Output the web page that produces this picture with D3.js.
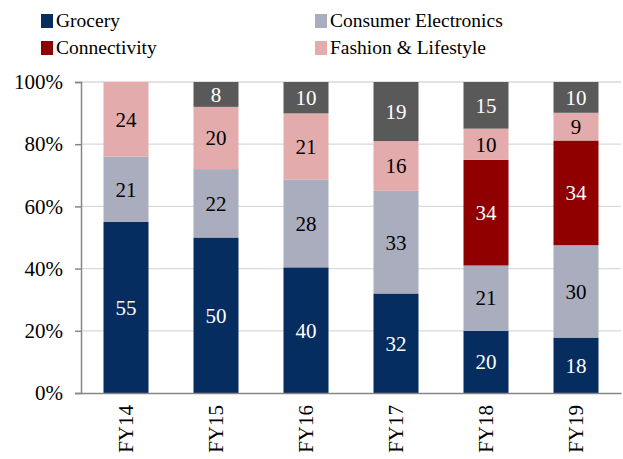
<!DOCTYPE html>
<html><head><meta charset="utf-8">
<script src="https://cdn.jsdelivr.net/npm/d3@7"></script>
<style>body{margin:0;background:#fff}svg{display:block}</style>
</head><body><svg id="c" width="623" height="459" style="font-family:'Liberation Serif','Times New Roman',serif"></svg>
<script>
const categories = ["FY14","FY15","FY16","FY17","FY18","FY19"];
const seriesNames = ["Grocery","Consumer Electronics","Connectivity","Fashion & Lifestyle","Others"];
const grocery = [55,50,40,32,20,18];
const consumerElectronics = [21,22,28,33,21,30];
const connectivity = [0,0,0,0,34,34];
const fashionLifestyle = [24,20,21,16,10,9];
const others = [0,8,10,19,15,10];
const yTicks = [0,0.2,0.4,0.6,0.8,1.0];
const colors = ["#062d5f","#aaadbd","#900000","#e4abac","#595959"];
const labelColors = ["#fff","#000","#fff","#000","#fff"];
const FONT = "'Liberation Serif','Times New Roman',serif";

const svg = d3.select("#c");
const x = d3.scaleBand().domain(categories).range([81,621]).paddingInner(0.5).paddingOuter(0.25);
const y = d3.scaleLinear().domain([0,1]).range([393,82]);

const rows = categories.map((c,i)=>{
  const vals=[grocery[i],consumerElectronics[i],connectivity[i],fashionLifestyle[i],others[i]];
  const tot=d3.sum(vals);
  const o={cat:c}; seriesNames.forEach((s,j)=>{o[s]=vals[j]/tot; o[s+"_raw"]=vals[j];}); return o;
});
const stack = d3.stack().keys(seriesNames)(rows);

svg.append("g").selectAll("line").data(yTicks.slice(1)).join("line")
  .attr("x1",81).attr("x2",621).attr("y1",d=>y(d)).attr("y2",d=>y(d))
  .attr("stroke","#d9d9d9").attr("stroke-width",1.3);

stack.forEach((layer,j)=>{
  const g=svg.append("g");
  g.selectAll("rect").data(layer).join("rect")
    .attr("x",d=>x(d.data.cat)).attr("width",x.bandwidth())
    .attr("y",d=>y(d[1])).attr("height",d=>Math.max(0,y(d[0])-y(d[1])))
    .attr("fill",colors[j]);
  g.selectAll("text").data(layer.filter(d=>d.data[seriesNames[j]+"_raw"]>0)).join("text")
    .attr("x",d=>x(d.data.cat)+x.bandwidth()/2)
    .attr("y",d=>(y(d[0])+y(d[1]))/2)
    .attr("dy","0.35em").attr("text-anchor","middle")
    .style("font-family",FONT).style("font-size","21px").attr("fill",labelColors[j])
    .text(d=>d.data[seriesNames[j]+"_raw"]);
});

const ya = svg.append("g").attr("transform","translate(81,0)")
  .call(d3.axisLeft(y).tickValues(yTicks).tickFormat(d3.format(".0%")).tickSize(6).tickPadding(12));
ya.select(".domain").attr("stroke","#868686").attr("stroke-width",1.5);
ya.selectAll(".tick line").attr("stroke","#868686").attr("stroke-width",1.5);
ya.selectAll("text").style("font-family",FONT).style("font-size","21px").attr("fill","#000");

const xa = svg.append("g").attr("transform","translate(0,393)")
  .call(d3.axisBottom(x).tickSize(0).tickPadding(0));
xa.select(".domain").attr("stroke","#868686").attr("stroke-width",1.5);
xa.selectAll("text").style("font-family",FONT).style("font-size","21px").attr("fill","#000")
  .attr("transform","rotate(-90)").attr("text-anchor","end").attr("x",-12).attr("y",0).attr("dy","0.35em");

const legendPos = [[41,13],[315,13],[41,40],[315,40]];
const lg = svg.append("g");
seriesNames.slice(0,4).forEach((s,j)=>{
  const [lx,ly]=legendPos[j];
  lg.append("rect").attr("x",lx).attr("y",ly+1).attr("width",12).attr("height",14).attr("fill",colors[j]);
  lg.append("text").attr("x",lx+15).attr("y",ly+14).style("font-family",FONT).style("font-size","19.5px").attr("fill","#000").text(s);
});
</script></body></html>
